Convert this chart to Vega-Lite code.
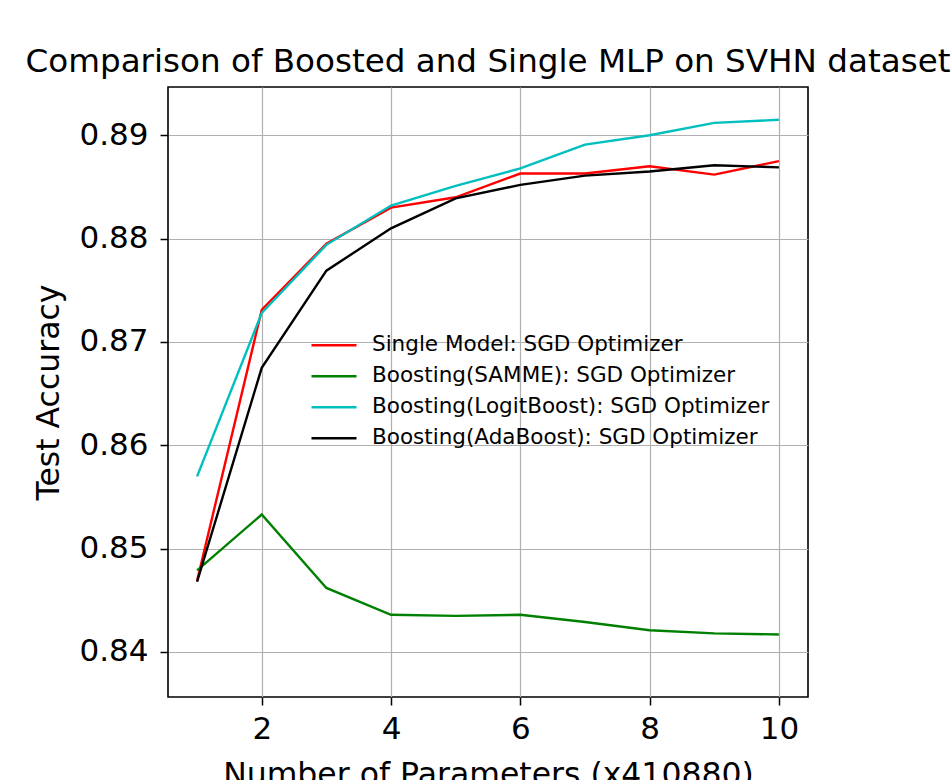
{
  "$schema": "https://vega.github.io/schema/vega-lite/v6.json",
  "width": 640,
  "height": 610,
  "autosize": {"type": "none"},
  "padding": {"left": 168, "top": 87, "right": 143, "bottom": 83},
  "background": "white",
  "config": {
    "font": "DejaVu Sans",
    "view": {"stroke": "black", "strokeWidth": 1.6},
    "axis": {
      "labelFont": "DejaVu Sans",
      "titleFont": "DejaVu Sans",
      "labelFontSize": 31,
      "titleFontSize": 31.5,
      "titleFontWeight": "normal",
      "labelColor": "black",
      "titleColor": "black",
      "tickColor": "black",
      "tickSize": 8,
      "tickWidth": 1.5,
      "domain": false,
      "gridColor": "#b0b0b0",
      "gridWidth": 1.2,
      "gridOpacity": 1
    }
  },
  "title": {
    "text": "Comparison of Boosted and Single MLP on SVHN dataset",
    "font": "DejaVu Sans",
    "fontSize": 32.6,
    "fontWeight": "normal",
    "color": "black",
    "anchor": "middle",
    "offset": 8
  },
  "data": {
    "values": [
      {"n": 1, "model": "Single Model: SGD Optimizer", "acc": 0.8469},
      {"n": 2, "model": "Single Model: SGD Optimizer", "acc": 0.8731},
      {"n": 3, "model": "Single Model: SGD Optimizer", "acc": 0.8795},
      {"n": 4, "model": "Single Model: SGD Optimizer", "acc": 0.8830},
      {"n": 5, "model": "Single Model: SGD Optimizer", "acc": 0.8840},
      {"n": 6, "model": "Single Model: SGD Optimizer", "acc": 0.8863},
      {"n": 7, "model": "Single Model: SGD Optimizer", "acc": 0.8863},
      {"n": 8, "model": "Single Model: SGD Optimizer", "acc": 0.8870},
      {"n": 9, "model": "Single Model: SGD Optimizer", "acc": 0.8862},
      {"n": 10, "model": "Single Model: SGD Optimizer", "acc": 0.8875},
      {"n": 1, "model": "Boosting(SAMME): SGD Optimizer", "acc": 0.8479},
      {"n": 2, "model": "Boosting(SAMME): SGD Optimizer", "acc": 0.8533},
      {"n": 3, "model": "Boosting(SAMME): SGD Optimizer", "acc": 0.8462},
      {"n": 4, "model": "Boosting(SAMME): SGD Optimizer", "acc": 0.8436},
      {"n": 5, "model": "Boosting(SAMME): SGD Optimizer", "acc": 0.8435},
      {"n": 6, "model": "Boosting(SAMME): SGD Optimizer", "acc": 0.8436},
      {"n": 7, "model": "Boosting(SAMME): SGD Optimizer", "acc": 0.8429},
      {"n": 8, "model": "Boosting(SAMME): SGD Optimizer", "acc": 0.8421},
      {"n": 9, "model": "Boosting(SAMME): SGD Optimizer", "acc": 0.8418},
      {"n": 10, "model": "Boosting(SAMME): SGD Optimizer", "acc": 0.8417},
      {"n": 1, "model": "Boosting(LogitBoost): SGD Optimizer", "acc": 0.8570},
      {"n": 2, "model": "Boosting(LogitBoost): SGD Optimizer", "acc": 0.8728},
      {"n": 3, "model": "Boosting(LogitBoost): SGD Optimizer", "acc": 0.8794},
      {"n": 4, "model": "Boosting(LogitBoost): SGD Optimizer", "acc": 0.8832},
      {"n": 5, "model": "Boosting(LogitBoost): SGD Optimizer", "acc": 0.8851},
      {"n": 6, "model": "Boosting(LogitBoost): SGD Optimizer", "acc": 0.8868},
      {"n": 7, "model": "Boosting(LogitBoost): SGD Optimizer", "acc": 0.8891},
      {"n": 8, "model": "Boosting(LogitBoost): SGD Optimizer", "acc": 0.8900},
      {"n": 9, "model": "Boosting(LogitBoost): SGD Optimizer", "acc": 0.8912},
      {"n": 10, "model": "Boosting(LogitBoost): SGD Optimizer", "acc": 0.8915},
      {"n": 1, "model": "Boosting(AdaBoost): SGD Optimizer", "acc": 0.8468},
      {"n": 2, "model": "Boosting(AdaBoost): SGD Optimizer", "acc": 0.8675},
      {"n": 3, "model": "Boosting(AdaBoost): SGD Optimizer", "acc": 0.8769},
      {"n": 4, "model": "Boosting(AdaBoost): SGD Optimizer", "acc": 0.8810},
      {"n": 5, "model": "Boosting(AdaBoost): SGD Optimizer", "acc": 0.8839},
      {"n": 6, "model": "Boosting(AdaBoost): SGD Optimizer", "acc": 0.8852},
      {"n": 7, "model": "Boosting(AdaBoost): SGD Optimizer", "acc": 0.8861},
      {"n": 8, "model": "Boosting(AdaBoost): SGD Optimizer", "acc": 0.8865},
      {"n": 9, "model": "Boosting(AdaBoost): SGD Optimizer", "acc": 0.8871},
      {"n": 10, "model": "Boosting(AdaBoost): SGD Optimizer", "acc": 0.8869}
    ]
  },
  "mark": {"type": "line", "strokeWidth": 2.4, "clip": true},
  "encoding": {
    "x": {
      "field": "n",
      "type": "quantitative",
      "scale": {"domain": [0.55, 10.45], "nice": false, "zero": false},
      "axis": {
        "title": "Number of Parameters (x410880)",
        "values": [2, 4, 6, 8, 10],
        "format": "d",
        "labelPadding": 9,
        "titlePadding": 15,
        "labelFlush": false
      }
    },
    "y": {
      "field": "acc",
      "type": "quantitative",
      "scale": {"domain": [0.835645, 0.894674], "nice": false, "zero": false},
      "axis": {
        "title": "Test Accuracy",
        "values": [0.84, 0.85, 0.86, 0.87, 0.88, 0.89],
        "format": ".2f",
        "labelPadding": 12,
        "titlePadding": 13,
        "labelFlush": false
      }
    },
    "color": {
      "field": "model",
      "type": "nominal",
      "sort": ["Single Model: SGD Optimizer", "Boosting(SAMME): SGD Optimizer", "Boosting(LogitBoost): SGD Optimizer", "Boosting(AdaBoost): SGD Optimizer"],
      "scale": {
        "domain": ["Single Model: SGD Optimizer", "Boosting(SAMME): SGD Optimizer", "Boosting(LogitBoost): SGD Optimizer", "Boosting(AdaBoost): SGD Optimizer"],
        "range": ["#ff0000", "#008000", "#00bfbf", "#000000"]
      },
      "legend": {
        "title": null,
        "orient": "none",
        "legendX": 142,
        "legendY": 243,
        "padding": 0,
        "symbolType": "stroke",
        "symbolSize": 2025,
        "symbolStrokeWidth": 2.4,
        "clipHeight": 30.5,
        "rowPadding": 0,
        "labelOffset": 14,
        "labelFont": "DejaVu Sans",
        "labelFontSize": 21.5,
        "labelColor": "black",
        "labelLimit": 600
      }
    }
  }
}
